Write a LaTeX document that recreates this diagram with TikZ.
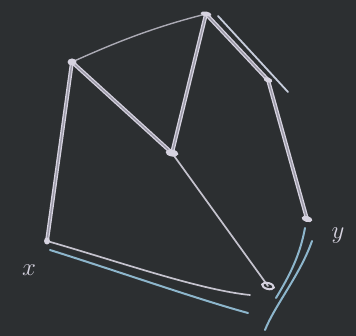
\documentclass[tikz,border=0pt]{standalone}
\usetikzlibrary{calc}
\definecolor{board}{HTML}{2C2F31}
\definecolor{chalk}{HTML}{D6D3E0}
\definecolor{chalkblue}{HTML}{8DB6CC}
\definecolor{groove}{HTML}{9A98A6}
\tikzset{
  thick edge/.style={draw=chalk, line width=1.3pt, double=groove, double distance=1.3pt, line cap=round},
  thin edge/.style={draw=chalk!90!board, line width=1.7pt, line cap=round},
  faint edge/.style={draw=chalk!75!board, line width=1.4pt, line cap=round},
  blue edge/.style={draw=chalkblue, line width=2pt, line cap=round},
  vertexmark/.style={fill=chalk, draw=none},
  lbl/.style={text=chalk, font=\fontsize{30}{30}\selectfont, inner sep=0pt}
}
\begin{document}
\begin{tikzpicture}[x=1pt,y=-1pt]
\fill[board] (0,0) rectangle (356,336);
\useasboundingbox (0,0) rectangle (356,336);
% vertices
\coordinate (A) at (72,62);
\coordinate (B) at (206,14);
\coordinate (C) at (268,80);
\coordinate (D) at (172,153);
\coordinate (Y) at (307,219);
\coordinate (X) at (47,241);
\coordinate (Z) at (268,286);
\coordinate (Bo) at (218,16);
\coordinate (Co) at (288,92);
\coordinate (Zt) at (250,295);
\coordinate (Xb) at (50,250);
\coordinate (Zb) at (248,313);
\coordinate (Y1) at (305,228);
\coordinate (Z1) at (276,298);
\coordinate (Y2) at (312,241);
\coordinate (Z2) at (265,330);
% edges
\draw[faint edge] (A) .. controls (110,45) and (150,28) .. (B);
\draw[thick edge] (A) -- (X);
\draw[thick edge] (A) -- (D);
\draw[thick edge] (B) -- (D);
\draw[thick edge] (B) -- (C);
\draw[blue edge, draw=chalk!80!chalkblue, line width=1.8pt] (Bo) -- (Co);
\draw[thick edge] (C) -- (Y);
\draw[thin edge] (D) -- (Z);
\draw[thin edge] (X) .. controls (120,262) and (200,290) .. (Zt);
\draw[blue edge] (Xb) .. controls (120,272) and (200,300) .. (Zb);
\draw[blue edge] (Y1) .. controls (300,255) and (290,275) .. (Z1);
\draw[blue edge] (Y2) .. controls (300,275) and (275,305) .. (Z2);
% vertex marks
\fill[vertexmark] (A) ellipse (4.5pt and 3.5pt);
\fill[vertexmark, rotate around={-10:(B)}] (B) ellipse (5.5pt and 2.5pt);
\fill[vertexmark, rotate around={-20:(C)}] (C) ellipse (4.5pt and 2.5pt);
\fill[vertexmark, rotate around={-10:(D)}] (D) ellipse (6.5pt and 3.5pt);
\fill[vertexmark, rotate around={-15:(Y)}] (Y) ellipse (5.5pt and 3pt);
\fill[vertexmark] (X) ellipse (3pt and 3.5pt);
\draw[chalk, line width=2pt, rotate around={-15:(Z)}] (Z) ellipse (6pt and 3pt);
% labels
\node[lbl] (lx) at (29,270) {$x$};
\node[lbl] (ly) at (338,236) {$y$};
\end{tikzpicture}
\end{document}
